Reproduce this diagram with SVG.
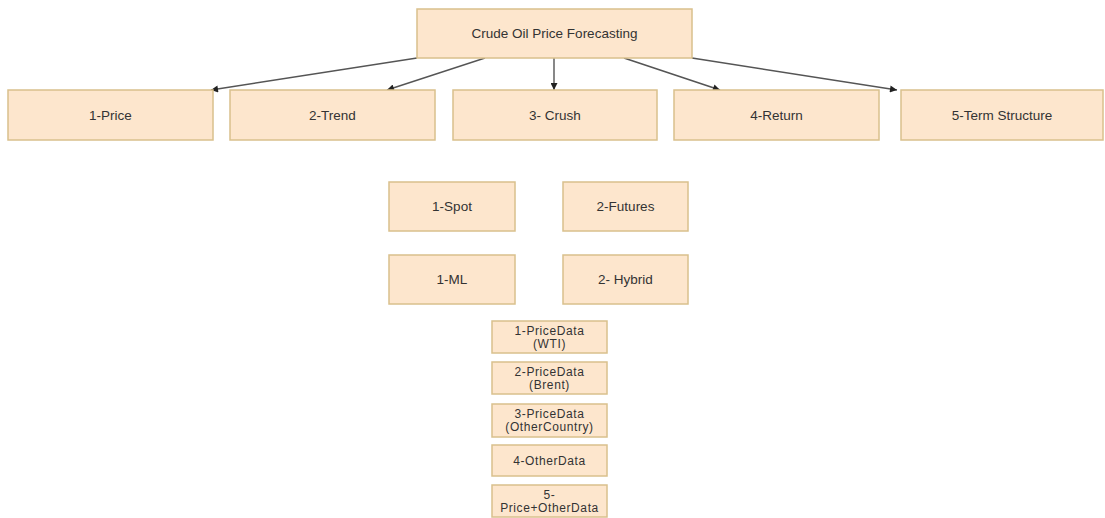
<svg xmlns="http://www.w3.org/2000/svg" width="1105" height="518" viewBox="0 0 1105 518">
<style>
.box{fill:#fde6cd;stroke:#d9c08c;stroke-width:1.5}
.t{font-family:"Liberation Sans",Arial,sans-serif;font-size:13.5px;fill:#333;text-anchor:middle;dominant-baseline:central}
.s{font-family:"Liberation Sans",Arial,sans-serif;font-size:12px;letter-spacing:0.6px;fill:#333;text-anchor:middle}
.c{stroke:#555;stroke-width:1.4;fill:none;marker-end:url(#ah)}
</style>
<defs>
<marker id="ah" viewBox="0 0 10 10" refX="10" refY="5" markerWidth="8" markerHeight="7" markerUnits="userSpaceOnUse" orient="auto">
<path d="M0,0 L10,5 L0,10 Z" fill="#222"/>
</marker>
</defs>
<rect width="1105" height="518" fill="#ffffff"/>
<g id="connectors">
<line class="c" x1="417" y1="58" x2="211" y2="90"/>
<line class="c" x1="485" y1="58" x2="387" y2="90"/>
<line class="c" x1="554" y1="58" x2="554" y2="90"/>
<line class="c" x1="624" y1="58" x2="720" y2="90"/>
<line class="c" x1="692" y1="58" x2="897" y2="90"/>
</g>
<g id="root"><rect class="box" x="417" y="9" width="275" height="49"/><text class="t" x="554.5" y="33.5">Crude Oil Price Forecasting</text></g>
<g id="price"><rect class="box" x="8" y="90" width="205" height="50"/><text class="t" x="110.5" y="115">1-Price</text></g>
<g id="trend"><rect class="box" x="230" y="90" width="205" height="50"/><text class="t" x="332.5" y="115">2-Trend</text></g>
<g id="crush"><rect class="box" x="453" y="90" width="204" height="50"/><text class="t" x="555" y="115">3- Crush</text></g>
<g id="return"><rect class="box" x="674" y="90" width="205" height="50"/><text class="t" x="776.5" y="115">4-Return</text></g>
<g id="term"><rect class="box" x="901" y="90" width="202" height="50"/><text class="t" x="1002" y="115">5-Term Structure</text></g>
<g id="spot"><rect class="box" x="389" y="182" width="126" height="49"/><text class="t" x="452" y="206.5">1-Spot</text></g>
<g id="futures"><rect class="box" x="563" y="182" width="125" height="49"/><text class="t" x="625.5" y="206.5">2-Futures</text></g>
<g id="ml"><rect class="box" x="389" y="255" width="126" height="49"/><text class="t" x="452" y="279.5">1-ML</text></g>
<g id="hybrid"><rect class="box" x="563" y="255" width="125" height="49"/><text class="t" x="625.5" y="279.5">2- Hybrid</text></g>
<g id="wti"><rect class="box" x="492" y="321" width="115" height="32"/><text class="s" x="549.5" y="335">1-PriceData</text><text class="s" x="549.5" y="348">(WTI)</text></g>
<g id="brent"><rect class="box" x="492" y="362" width="115" height="32"/><text class="s" x="549.5" y="376">2-PriceData</text><text class="s" x="549.5" y="389">(Brent)</text></g>
<g id="other-country"><rect class="box" x="492" y="404" width="115" height="33"/><text class="s" x="549.5" y="418">3-PriceData</text><text class="s" x="549.5" y="431">(OtherCountry)</text></g>
<g id="other-data"><rect class="box" x="492" y="445" width="115" height="31"/><text class="s" x="549.5" y="465">4-OtherData</text></g>
<g id="price-other"><rect class="box" x="492" y="485" width="115" height="32"/><text class="s" x="549.5" y="499">5-</text><text class="s" x="549.5" y="512">Price+OtherData</text></g>
</svg>
